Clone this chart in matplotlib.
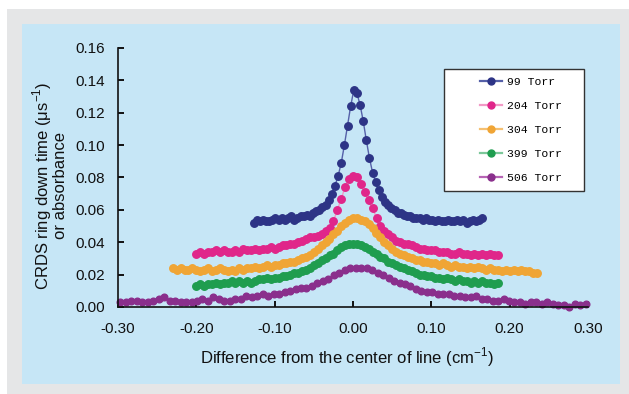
import numpy as np
import matplotlib
matplotlib.use("Agg")
import matplotlib.pyplot as plt
from matplotlib.patches import Rectangle
from matplotlib.lines import Line2D

# ---------------- data ----------------
labels = ["99 Torr", "204 Torr", "304 Torr", "399 Torr", "506 Torr"]

x_range_99 = (-0.127, 0.165)
y_99 = [0.052, 0.054, 0.053, 0.054, 0.053, 0.053, 0.054, 0.055, 0.054, 0.055,
        0.054, 0.055, 0.056, 0.054, 0.055, 0.056, 0.056, 0.057, 0.056, 0.058,
        0.059, 0.060, 0.062, 0.063, 0.066, 0.070, 0.075, 0.081, 0.089, 0.100,
        0.112, 0.124, 0.134, 0.132, 0.125, 0.115, 0.103, 0.092, 0.083, 0.077,
        0.072, 0.068, 0.065, 0.063, 0.061, 0.060, 0.058, 0.058, 0.057, 0.056,
        0.056, 0.055, 0.055, 0.055, 0.054, 0.055, 0.054, 0.054, 0.053, 0.054,
        0.053, 0.053, 0.054, 0.053, 0.053, 0.054, 0.053, 0.054, 0.052, 0.053,
        0.054, 0.053, 0.054, 0.055]

x_range_204 = (-0.200, 0.185)
y_204 = [0.033, 0.034, 0.033, 0.034, 0.034, 0.035, 0.034, 0.035, 0.034, 0.034,
         0.035, 0.034, 0.036, 0.035, 0.035, 0.036, 0.035, 0.036, 0.036, 0.037,
         0.036, 0.037, 0.038, 0.038, 0.039, 0.039, 0.040, 0.041, 0.042, 0.043,
         0.043, 0.044, 0.045, 0.047, 0.049, 0.053, 0.060, 0.067, 0.074, 0.079,
         0.081, 0.080, 0.076, 0.071, 0.066, 0.061, 0.055, 0.050, 0.047, 0.045,
         0.043, 0.041, 0.040, 0.039, 0.039, 0.038, 0.037, 0.036, 0.036, 0.035,
         0.035, 0.035, 0.034, 0.034, 0.034, 0.033, 0.033, 0.034, 0.033, 0.033,
         0.032, 0.033, 0.032, 0.033, 0.032, 0.033, 0.032, 0.032]

x_range_304 = (-0.230, 0.235)
y_304 = [0.024, 0.023, 0.024, 0.023, 0.023, 0.024, 0.023, 0.022, 0.023, 0.024,
         0.022, 0.023, 0.024, 0.023, 0.022, 0.023, 0.022, 0.024, 0.023, 0.024,
         0.024, 0.025, 0.024, 0.025, 0.026, 0.025, 0.026, 0.026, 0.027, 0.027,
         0.028, 0.028, 0.029, 0.030, 0.031, 0.032, 0.034, 0.036, 0.038, 0.040,
         0.042, 0.045, 0.047, 0.050, 0.052, 0.054, 0.055, 0.055, 0.054, 0.053,
         0.051, 0.049, 0.046, 0.043, 0.040, 0.038, 0.036, 0.034, 0.033, 0.032,
         0.031, 0.030, 0.029, 0.029, 0.028, 0.028, 0.027, 0.027, 0.026, 0.027,
         0.026, 0.025, 0.026, 0.025, 0.025, 0.024, 0.025, 0.024, 0.025, 0.024,
         0.023, 0.024, 0.023, 0.023, 0.022, 0.023, 0.022, 0.023, 0.022, 0.023,
         0.022, 0.022, 0.021, 0.021]

x_range_399 = (-0.200, 0.185)
y_399 = [0.013, 0.014, 0.013, 0.014, 0.014, 0.015, 0.014, 0.015, 0.015, 0.016,
         0.015, 0.016, 0.015, 0.016, 0.015, 0.016, 0.017, 0.017, 0.018, 0.017,
         0.018, 0.018, 0.019, 0.019, 0.020, 0.021, 0.021, 0.022, 0.023, 0.024,
         0.026, 0.027, 0.029, 0.030, 0.032, 0.033, 0.035, 0.037, 0.038, 0.039,
         0.039, 0.039, 0.038, 0.037, 0.036, 0.034, 0.033, 0.031, 0.030, 0.028,
         0.027, 0.026, 0.025, 0.024, 0.023, 0.022, 0.021, 0.020, 0.020, 0.019,
         0.019, 0.018, 0.018, 0.017, 0.018, 0.017, 0.016, 0.017, 0.016, 0.016,
         0.015, 0.016, 0.015, 0.016, 0.015, 0.015, 0.014, 0.015]

x_range_506 = (-0.297, 0.297)
y_506 = [0.003, 0.003, 0.004, 0.004, 0.003, 0.003, 0.004, 0.005, 0.006, 0.004,
         0.004, 0.003, 0.003, 0.003, 0.004, 0.005, 0.004, 0.006, 0.005, 0.004,
         0.004, 0.005, 0.005, 0.007, 0.006, 0.007, 0.008, 0.007, 0.008, 0.008,
         0.009, 0.010, 0.011, 0.012, 0.012, 0.013, 0.015, 0.016, 0.017, 0.020,
         0.021, 0.023, 0.024, 0.024, 0.024, 0.024, 0.023, 0.021, 0.020, 0.018,
         0.016, 0.015, 0.014, 0.013, 0.011, 0.010, 0.009, 0.009, 0.008, 0.008,
         0.008, 0.007, 0.007, 0.006, 0.006, 0.007, 0.005, 0.005, 0.004, 0.004,
         0.005, 0.004, 0.003, 0.003, 0.002, 0.003, 0.003, 0.002, 0.003, 0.002,
         0.001, 0.001, 0.000, 0.002, 0.001, 0.002]

x_ticks = [-0.30, -0.20, -0.10, 0.00, 0.10, 0.20, 0.30]
y_ticks = [0.00, 0.02, 0.04, 0.06, 0.08, 0.10, 0.12, 0.14, 0.16]

# ---------------- style ----------------
marker_colors = ["#2d3486", "#e0268a", "#f0a535", "#1f9d4f", "#8a2f8c"]
line_colors = ["#5560a8", "#f29ac6", "#f5c072", "#7cc89a", "#b765b5"]
marker_sizes = [5.4, 5.4, 5.4, 5.4, 4.8]

W, H = 629, 394
plt.rcParams["font.family"] = ["Liberation Sans", "DejaVu Sans"]
fig = plt.figure(figsize=(W / 100, H / 100), dpi=100, facecolor="white")

# outer grey frame and light-blue panel
fig.patches.append(Rectangle((7 / W, 0), 1 - 7 / W, 1 - 9 / H,
                             transform=fig.transFigure, facecolor="#e5e6e7",
                             edgecolor="none", zorder=-10))
fig.patches.append(Rectangle((22 / W, 1 - 384 / H), (620 - 22) / W, (384 - 24) / H,
                             transform=fig.transFigure, facecolor="#c6e6f6",
                             edgecolor="none", zorder=-9))

ax = fig.add_axes([118 / W, 1 - 307 / H, (588 - 118) / W, (307 - 48) / H])
ax.set_facecolor("none")

series = [(x_range_99, y_99), (x_range_204, y_204), (x_range_304, y_304),
          (x_range_399, y_399), (x_range_506, y_506)]
for (xr, ys), lab, mc, lc, ms in zip(series, labels, marker_colors, line_colors,
                                     marker_sizes):
    xs = np.linspace(xr[0], xr[1], len(ys))
    ax.plot(xs, ys, color=lc, lw=1.0, marker="o", ms=ms,
            markerfacecolor=mc, markeredgecolor=mc, label=lab, clip_on=False)

ax.set_xlim(-0.30, 0.30)
ax.set_ylim(0.0, 0.16)
ax.set_xticks(x_ticks)
ax.set_yticks(y_ticks)
ax.set_xticklabels([f"{v:.2f}" for v in x_ticks])
ax.set_yticklabels([f"{v:.2f}" for v in y_ticks])
for s in ["top", "right"]:
    ax.spines[s].set_visible(False)
for s in ["left", "bottom"]:
    ax.spines[s].set_linewidth(1.2)
    ax.spines[s].set_color("#111111")
ax.tick_params(axis="both", direction="in", length=4, width=1.4, colors="#111111",
               labelsize=11, labelcolor="#111111")
ax.tick_params(axis="x", pad=11)
ax.tick_params(axis="y", pad=9)

ax.set_xlabel("Difference from the center of line (cm$^{\\mathregular{-1}}$)",
              fontsize=12, color="#111111", va="center")
ax.xaxis.set_label_coords((347 - 118) / 470, (307 - 357) / 259)
ax.set_ylabel("CRDS ring down time (\u03bcs$^{\\mathregular{-1}}$)\nor absorbance",
              fontsize=12, color="#111111", va="center", linespacing=0.95)
ax.yaxis.set_label_coords((49 - 118) / 470, (307 - 186) / 259)

# legend box
fig.patches.append(Rectangle((444 / W, 1 - 191 / H), (584 - 444) / W, (191 - 69) / H,
                             transform=fig.transFigure, facecolor="white",
                             edgecolor="#333333", lw=1.0, zorder=5))
leg_handles = [Line2D([], [], color=lc, lw=1.6, marker="o", ms=5,
                      markerfacecolor=mc, markeredgecolor=mc)
               for mc, lc in zip(marker_colors, line_colors)]
leg = fig.legend(leg_handles, labels, loc="upper left",
                 bbox_to_anchor=(480 / W, 1 - 77 / H), bbox_transform=fig.transFigure,
                 frameon=False, borderpad=0, borderaxespad=0, handlelength=1.95,
                 handletextpad=0.45, labelspacing=1.22,
                 prop={"family": "Liberation Mono", "size": 8.2})
leg.set_zorder(6)

fig.savefig("out.png", dpi=100, facecolor="white")
